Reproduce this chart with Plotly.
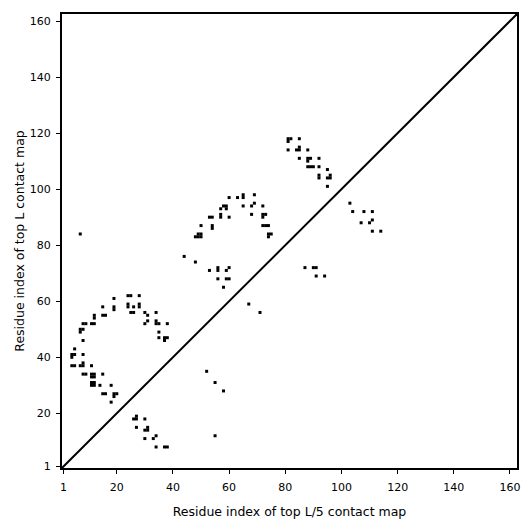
import plotly.graph_objects as go

# Contacts: (residue index on x = top L/5 map, residue index on y = top L map)
contact_x = [
    7, 44, 48,
    4, 5, 7, 8, 8, 11,
    4, 4, 5, 5, 8, 8,
    7, 7, 8, 8, 9, 11, 12, 12, 12,
    15, 16, 15, 19, 19, 19,
    24, 24, 24, 25, 26, 25, 26, 28, 28, 28,
    30, 31, 31, 30, 34, 34, 35, 34, 35, 35,
    38, 37, 37, 38,
    8, 9, 11, 12, 11, 12, 15,
    11, 12, 11, 12, 14, 18, 15, 16, 19, 20, 19, 18,
    26, 27, 27, 30, 27, 30, 31, 31, 34, 33, 30, 34, 37, 38,
    67, 71, 52, 55, 58, 55,
    60, 63, 65, 65, 69,
    58, 59, 59, 57, 65, 68, 69, 72,
    53, 54, 57, 57, 60, 68, 72, 73, 72,
    50, 54, 54, 72, 73, 74,
    48, 49, 50, 49, 50, 74, 74, 75,
    53, 56, 56, 60, 59, 56, 59, 60, 58,
    81, 82, 81, 85,
    81, 84, 85, 85, 88,
    85, 88, 89, 88, 92,
    88, 89, 90, 92, 95,
    92, 92, 96, 95, 96, 95,
    103, 104, 108, 111, 107, 110, 111, 111, 114,
    87, 90, 91, 91, 94,
]
contact_y = [
    84, 76, 74,
    37, 37, 37, 37, 38, 37,
    40, 41, 41, 43, 41, 46,
    49, 50, 50, 52, 52, 52, 52, 54, 55,
    55, 55, 58, 57, 58, 61,
    58, 59, 62, 62, 58, 56, 56, 58, 62, 59,
    56, 55, 53, 52, 56, 52, 52, 53, 49, 47,
    52, 46, 47, 47,
    34, 34, 34, 34, 33, 33, 34,
    30, 30, 31, 31, 30, 30, 27, 27, 27, 27, 26, 24,
    18, 18, 19, 18, 15, 14, 14, 15, 12, 11, 11, 8, 8, 8,
    59, 56, 35, 31, 28, 12,
    97, 97, 97, 98, 98,
    94, 94, 93, 93, 94, 94, 95, 94,
    90, 90, 90, 91, 90, 91, 91, 91, 90,
    87, 87, 86, 87, 87, 87,
    83, 83, 83, 84, 84, 83, 84, 84,
    71, 71, 72, 72, 71, 68, 68, 68, 65,
    118, 118, 117, 118,
    114, 114, 114, 115, 114,
    111, 111, 111, 110, 111,
    108, 108, 108, 108, 107,
    104, 105, 105, 104, 104, 101,
    95, 92, 92, 92, 88, 88, 89, 85, 85,
    72, 72, 72, 69, 69,
]

axis_range = [0.5, 162.5]
tick_vals = [1, 20, 40, 60, 80, 100, 120, 140, 160]

fig = go.Figure()
fig.add_trace(go.Scatter(
    x=contact_x, y=contact_y, mode="markers",
    marker=dict(symbol="square", size=3, color="black", line=dict(width=0)),
    hoverinfo="x+y", showlegend=False,
))
fig.add_trace(go.Scatter(
    x=axis_range, y=axis_range, mode="lines",
    line=dict(color="black", width=2), hoverinfo="skip", showlegend=False,
))

axis_common = dict(
    range=axis_range, tickvals=tick_vals, ticks="outside", ticklen=4,
    tickwidth=1, tickcolor="black", showline=True, linecolor="black",
    linewidth=2, mirror=True, showgrid=False, zeroline=False,
    automargin=False,
    tickfont=dict(family="DejaVu Sans", size=11, color="black"),
)

# page body has an 8px margin; size/margins compensate so the plot area
# lands where the reference's does inside the 531x531 window
fig.update_layout(
    width=523, height=523,
    margin=dict(l=54, r=14, t=6, b=63, autoexpand=False),
    paper_bgcolor="white", plot_bgcolor="white",
    font=dict(family="DejaVu Sans", color="black"),
    xaxis=dict(axis_common, ticklabelstandoff=4,
               title=dict(text="Residue index of top L/5 contact map",
                          font=dict(size=12.5), standoff=14)),
    yaxis=dict(axis_common, ticklabelstandoff=3,
               title=dict(text="Residue index of top L contact map",
                          font=dict(size=12.5), standoff=2)),
)

fig.write_html("out.html")
